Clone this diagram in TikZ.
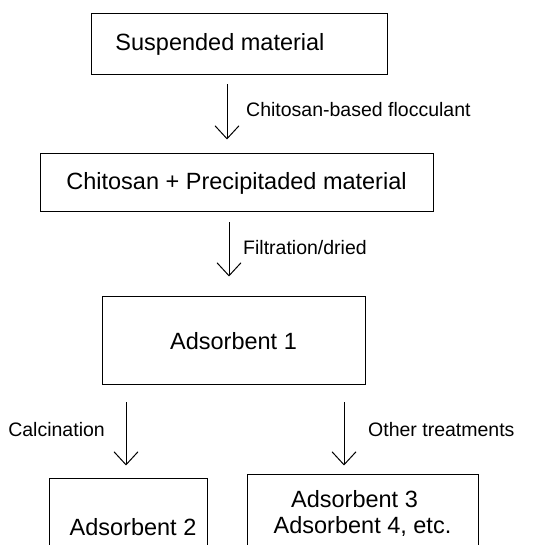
\documentclass[tikz,border=0pt]{standalone}
\usepackage{fontspec}
\setmainfont{Liberation Sans}
\usetikzlibrary{arrows.meta,calc}
\begin{document}
\begin{tikzpicture}[x=1pt,y=-1pt,
  box/.style={draw=black,line width=1pt,inner sep=0pt,align=center,
    font=\fontsize{23.5}{26}\selectfont},
  lbl/.style={inner sep=0pt,font=\fontsize{19.5}{22}\selectfont},
  arr/.style={line width=1pt,-{Straight Barb[length=13pt,width=24pt,line width=1pt]}}]
\useasboundingbox[fill=white] (0,0) rectangle (555,545);
\clip (0,0) rectangle (555,545);
\node[box,minimum width=296pt,minimum height=61pt] (b1) at (239,44.5) {Suspended material\hspace*{38pt}};
\node[box,minimum width=393pt,minimum height=58pt] (b2) at (236.5,183) {Chitosan + Precipitaded material};
\node[box,minimum width=263pt,minimum height=88pt] (b3) at (233.5,341) {Adsorbent 1};
\node[box,minimum width=158pt,minimum height=96pt] (b4) at (128,527) {\hspace*{10pt}Adsorbent 2};
\node[box,minimum width=231pt,minimum height=76pt] (b5) at (362.5,513) {Adsorbent 3\hspace*{16pt}\\Adsorbent 4, etc.};
\coordinate (a1s) at ($(b1.south)+(-12,9)$);
\coordinate (a1e) at ($(b2.north)+(-9.5,-14)$);
\coordinate (a2s) at ($(b2.south)+(-7.5,10)$);
\coordinate (a2e) at ($(b3.north)+(-4.5,-20)$);
\coordinate (a3s) at ($(b3.south)+(-107.5,17)$);
\coordinate (a3e) at ($(b4.north)+(-2,-13)$);
\coordinate (a4s) at ($(b3.south)+(110.5,17)$);
\coordinate (a4e) at ($(b5.north)+(-18.5,-9)$);
\draw[arr] (a1s) -- (a1e);
\draw[arr] (a2s) -- (a2e);
\draw[arr] (a3s) -- (a3e);
\draw[arr] (a4s) -- (a4e);
\node[lbl,anchor=west] (l1) at (246,110) {Chitosan-based flocculant};
\node[lbl,anchor=west] (l2) at (243,248) {Filtration/dried};
\node[lbl,anchor=east] (l3) at (105,430) {Calcination};
\node[lbl,anchor=west] (l4) at (368,430) {Other treatments};
\end{tikzpicture}
\end{document}
